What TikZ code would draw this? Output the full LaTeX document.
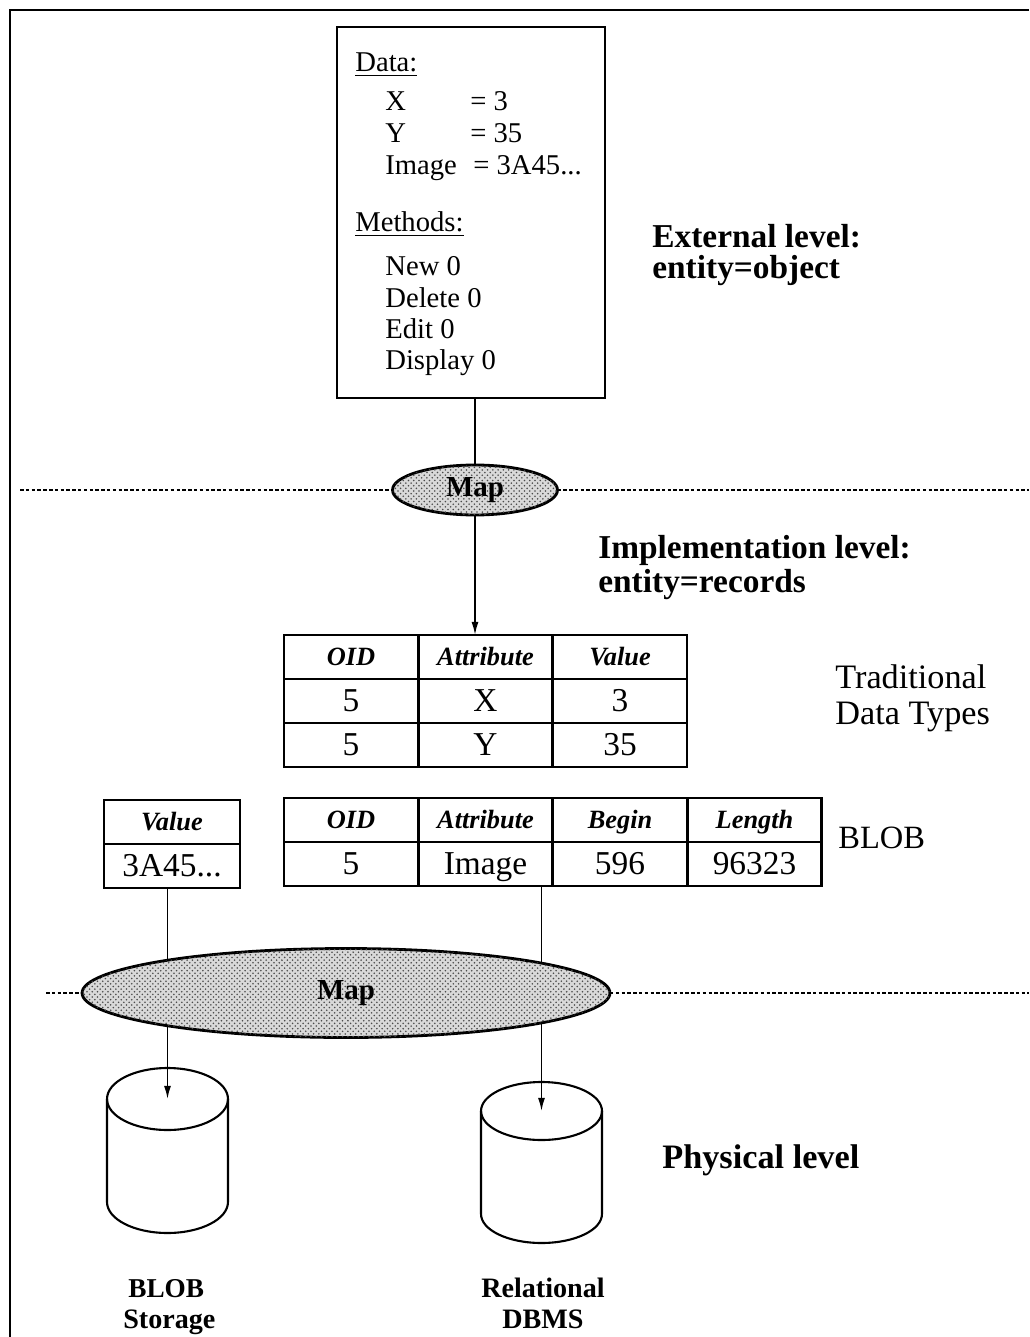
\documentclass[tikz,border=0pt]{standalone}
\usepackage{fontspec}
\setmainfont{Liberation Serif}
\usetikzlibrary{shapes.geometric,arrows.meta,patterns}
\begin{document}
\begin{tikzpicture}[x=0.02cm,y=-0.02cm,
 outerframe/.style={line width=1.3pt},
 box/.style={draw,line width=1.3pt,inner sep=0,outer sep=0},
 cell/.style={draw,line width=1.3pt,inner sep=0,outer sep=0,minimum width=2.68cm,minimum height=0.88cm},
 hd/.style={font=\fontsize{15}{18}\selectfont\bfseries\itshape,text height=10pt,text depth=0.5pt},
 dat/.style={font=\fontsize{19}{22}\selectfont,text height=12.5pt,text depth=0.5pt},
 mapnode/.style={ellipse,draw,line width=1.6pt,inner sep=0,outer sep=0,fill=gray!30,
   postaction={pattern=crosshatch dots,pattern color=gray!60!black},font=\fontsize{16.5}{18}\selectfont\bfseries},
 lvl/.style={font=\fontsize{19}{22}\selectfont\bfseries,anchor=base west,inner sep=0},
 rlab/.style={font=\fontsize{19.5}{22}\selectfont,anchor=base west,inner sep=0},
 obt/.style={font=\fontsize{16.3}{19}\selectfont,anchor=base west,inner sep=0},
 dblab/.style={font=\fontsize{16}{19}\selectfont\bfseries,anchor=base,inner sep=0},
 dashline/.style={line width=1.3pt,dash pattern=on 2pt off 1.3pt},
 conn/.style={line width=0.9pt},
 arr/.style={line width=0.9pt,-{Latex[length=7.5pt,width=4pt]}},
 cyl/.style={line width=1.2pt}
]
\useasboundingbox (0,0) rectangle (1029,1337);
% outer frame (top and left only)
\coordinate (ftl) at (10,10);
\coordinate (ftr) at (1029,10);
\coordinate (fbl) at (10,1337);
\draw[outerframe] (ftr) -- (ftl) -- (fbl);

% object box
\node[box,minimum width=5.36cm,minimum height=7.42cm] (obj) at (471,212.5) {};
\node[obt] (tdata) at (355,72) {\underline{Data:}};
\node[obt] (tx) at (385,111) {X};
\node[obt] (txv) at (470,111) {= 3};
\node[obt] (ty) at (385,143) {Y};
\node[obt] (tyv) at (470,143) {= 35};
\node[obt] (ti) at (385,175) {Image};
\node[obt] (tiv) at (473,175) {= 3A45...};
\node[obt] (tmeth) at (355,232) {\underline{Methods:}};
\node[obt] (tnew) at (385,276) {New 0};
\node[obt] (tdel) at (385,308) {Delete 0};
\node[obt] (tedit) at (385,339) {Edit 0};
\node[obt] (tdisp) at (385,370) {Display 0};

% level labels
\node[lvl] (ext1) at (652,248) {External level:};
\node[lvl] (ext2) at (652,279) {entity=object};
\node[lvl] (imp1) at (598,558) {Implementation level:};
\node[lvl] (imp2) at (598,592) {entity=records};
\node[lvl,font=\fontsize{19.5}{22}\selectfont\bfseries] (phys) at (662,1168) {Physical level};
\node[rlab] (trad1) at (835,688) {Traditional};
\node[rlab] (trad2) at (835,724) {Data Types};
\node[rlab,font=\fontsize{18.5}{22}\selectfont] (blob) at (838,848) {BLOB};

% map ellipses
\node[mapnode,minimum width=3.3cm,minimum height=1.0cm] (map1) at (475,490) {Map};
\node[mapnode,minimum width=10.56cm,minimum height=1.78cm] (map2) at (346,993) {Map};

% dashed level separators
\coordinate (d1l) at (20,490);
\coordinate (d1r) at (1029,490);
\draw[dashline] (d1l) -- (map1.west);
\draw[dashline] (map1.east) -- (d1r);
\coordinate (d2l) at (46,993);
\coordinate (d2r) at (1029,993);
\draw[dashline] (d2l) -- (map2.west);
\draw[dashline] (map2.east) -- (d2r);

% table 1 (traditional data types)
\node[cell,hd] (t1h1) at (351,657) {OID};
\node[cell,hd] (t1h2) at (485.5,657) {Attribute};
\node[cell,hd] (t1h3) at (620,657) {Value};
\node[cell,dat] (t1a1) at (351,701) {5};
\node[cell,dat] (t1a2) at (485.5,701) {X};
\node[cell,dat] (t1a3) at (620,701) {3};
\node[cell,dat] (t1b1) at (351,745) {5};
\node[cell,dat] (t1b2) at (485.5,745) {Y};
\node[cell,dat] (t1b3) at (620,745) {35};

% table 2 (BLOB)
\node[cell,hd] (t2h1) at (351,820) {OID};
\node[cell,hd] (t2h2) at (485.5,820) {Attribute};
\node[cell,hd] (t2h3) at (620,820) {Begin};
\node[cell,hd] (t2h4) at (754.5,820) {Length};
\node[cell,dat] (t2a1) at (351,864) {5};
\node[cell,dat] (t2a2) at (485.5,864) {Image};
\node[cell,dat] (t2a3) at (620,864) {596};
\node[cell,dat] (t2a4) at (754.5,864) {96323};

% value table
\node[cell,hd,minimum width=2.72cm] (vh) at (172,822) {Value};
\node[cell,dat,minimum width=2.72cm] (vb) at (172,866) {3A45...};

% cylinders
\draw[cyl] (107,1099) -- (107,1202) arc[start angle=180,end angle=360,x radius=1.21cm,y radius=0.62cm] -- (228,1099);
\draw[cyl] (167.5,1099) ellipse[x radius=1.21cm,y radius=0.62cm];
\coordinate (cyl1) at (167.5,1099);
\draw[cyl] (481,1111) -- (481,1214) arc[start angle=180,end angle=360,x radius=1.21cm,y radius=0.58cm] -- (602,1111);
\draw[cyl] (541.5,1111) ellipse[x radius=1.21cm,y radius=0.58cm];
\coordinate (cyl2) at (541.5,1111);

\node[dblab,anchor=base west,font=\fontsize{15.5}{19}\selectfont\bfseries] (bs1) at (128,1297) {BLOB};
\node[dblab,anchor=base west] (bs2) at (123,1328) {Storage};
\node[dblab] (rd1) at (543,1297) {Relational};
\node[dblab] (rd2) at (543,1328) {DBMS};

% points where the vertical connectors cross the big Map ellipse
\coordinate (m2lt) at (167.5,960.2);
\coordinate (m2lb) at (167.5,1025.8);
\coordinate (m2rt) at (541.5,963.1);
\coordinate (m2rb) at (541.5,1022.9);

% connectors
\draw[conn] (obj.south -| map1) -- (map1.north);
\draw[arr] (map1.south) -- (map1.south |- t1h2.north);
\draw[conn] (vb.south -| cyl1) -- (m2lt);
\draw[arr] (m2lb) -- (cyl1);
\draw[conn] (t2a2.south -| cyl2) -- (m2rt);
\draw[arr] (m2rb) -- (cyl2);
\end{tikzpicture}
\end{document}
